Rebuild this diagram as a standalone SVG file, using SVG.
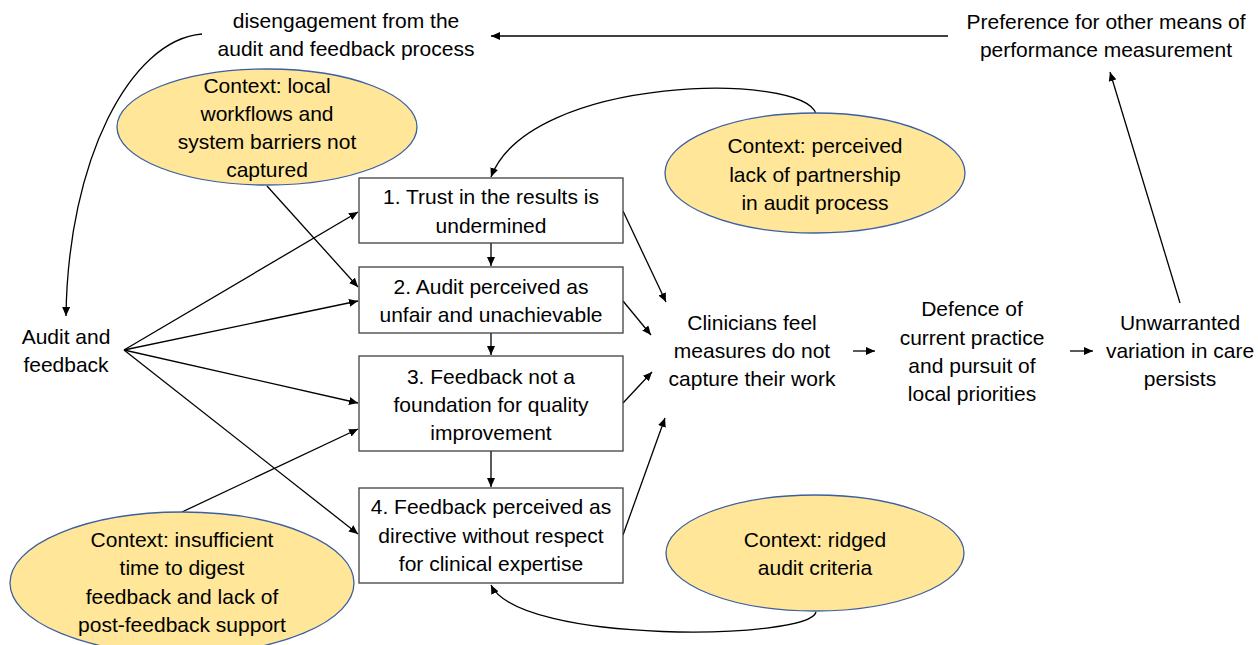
<svg xmlns="http://www.w3.org/2000/svg" width="1258" height="645" viewBox="0 0 1258 645">
<style>
text{font-family:"Liberation Sans",Arial,sans-serif;font-size:21px;fill:#000;text-anchor:middle}
.box{fill:#fff;stroke:#404040;stroke-width:1.3}
.ctx{fill:#FFE699;stroke:#3C5FA0;stroke-width:1.3}
.c{fill:none;stroke:#000;stroke-width:1.3;marker-end:url(#ah)}
</style>
<defs>
<marker id="ah" markerUnits="userSpaceOnUse" markerWidth="10" markerHeight="8" refX="9" refY="4" orient="auto">
<path d="M0,0 L9,4 L0,8 Z" fill="#000"/>
</marker>
</defs>
<rect width="1258" height="645" fill="#fff"/>
<g id="connectors">
<path class="c" d="M948,36 L491,36"/>
<path class="c" d="M202,34 C130,40 68,160 66,316"/>
<path class="c" d="M124,350 L358,212"/>
<path class="c" d="M124,350 L358,301"/>
<path class="c" d="M124,350 L358,403"/>
<path class="c" d="M124,350 L358,534"/>
<path class="c" d="M267,186 L358,287"/>
<path class="c" d="M182,512 L358,429"/>
<path class="c" d="M491,243 L491,266"/>
<path class="c" d="M491,333 L491,355"/>
<path class="c" d="M491,451 L491,487"/>
<path class="c" d="M816,114 C805,72 530,74 491,177"/>
<path class="c" d="M816,612 C810,640 520,645 491,585"/>
<path class="c" d="M623,211 L666,302"/>
<path class="c" d="M623,301 L651,335"/>
<path class="c" d="M623,403 L652,372"/>
<path class="c" d="M623,535 L665,418"/>
<path class="c" d="M853,351 L875,351"/>
<path class="c" d="M1070,351 L1093,351"/>
<path class="c" d="M1180,303 L1110,72"/>
</g>
<g id="disengagement">
<text x="346" y="28">disengagement from the</text>
<text x="346" y="56">audit and feedback process</text>
</g>
<g id="preference">
<text x="1106" y="29">Preference for other means of</text>
<text x="1106" y="57">performance measurement</text>
</g>
<g id="audit-feedback">
<text x="66" y="344">Audit and</text>
<text x="66" y="372">feedback</text>
</g>
<g id="ctx-local">
<ellipse class="ctx" cx="267" cy="127" rx="150" ry="58"/>
<text x="267" y="93">Context: local</text>
<text x="267" y="121">workflows and</text>
<text x="267" y="149">system barriers not</text>
<text x="267" y="177">captured</text>
</g>
<g id="ctx-partnership">
<ellipse class="ctx" cx="815" cy="173" rx="150" ry="60"/>
<text x="815" y="153">Context: perceived</text>
<text x="815" y="182">lack of partnership</text>
<text x="815" y="210">in audit process</text>
</g>
<g id="ctx-time">
<ellipse class="ctx" cx="182" cy="583" rx="172" ry="71"/>
<text x="182" y="547">Context: insufficient</text>
<text x="182" y="575">time to digest</text>
<text x="182" y="604">feedback and lack of</text>
<text x="182" y="632">post-feedback support</text>
</g>
<g id="ctx-ridged">
<ellipse class="ctx" cx="815" cy="553" rx="149" ry="58"/>
<text x="815" y="547">Context: ridged</text>
<text x="815" y="575">audit criteria</text>
</g>
<g id="box1">
<rect class="box" x="359" y="178" width="264" height="65"/>
<text x="491" y="204">1. Trust in the results is</text>
<text x="491" y="233">undermined</text>
</g>
<g id="box2">
<rect class="box" x="359" y="267" width="264" height="66"/>
<text x="491" y="294">2. Audit perceived as</text>
<text x="491" y="322">unfair and unachievable</text>
</g>
<g id="box3">
<rect class="box" x="359" y="356" width="264" height="95"/>
<text x="491" y="384">3. Feedback not a</text>
<text x="491" y="412">foundation for quality</text>
<text x="491" y="440">improvement</text>
</g>
<g id="box4">
<rect class="box" x="359" y="488" width="264" height="95"/>
<text x="491" y="514">4. Feedback perceived as</text>
<text x="491" y="543">directive without respect</text>
<text x="491" y="571">for clinical expertise</text>
</g>
<g id="clinicians">
<text x="752" y="330">Clinicians feel</text>
<text x="752" y="358">measures do not</text>
<text x="752" y="386">capture their work</text>
</g>
<g id="defence">
<text x="972" y="316">Defence of</text>
<text x="972" y="345">current practice</text>
<text x="972" y="373">and pursuit of</text>
<text x="972" y="401">local priorities</text>
</g>
<g id="unwarranted">
<text x="1180" y="330">Unwarranted</text>
<text x="1180" y="358">variation in care</text>
<text x="1180" y="386">persists</text>
</g>
</svg>
